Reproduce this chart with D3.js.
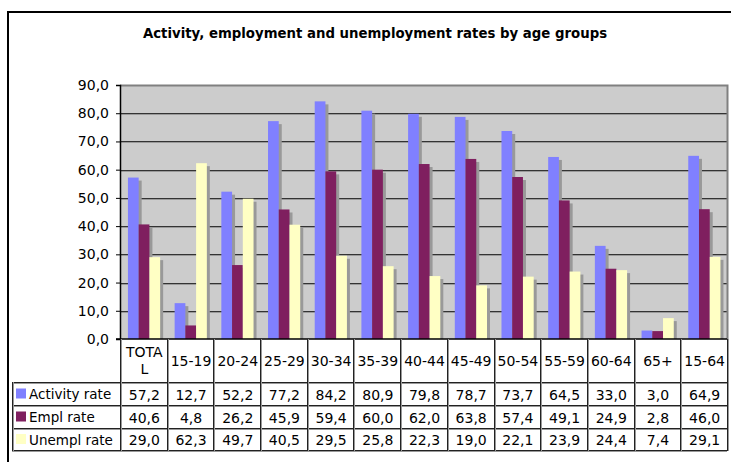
<!DOCTYPE html>
<html>
<head>
<meta charset="utf-8">
<script src="https://cdn.jsdelivr.net/npm/d3@7/dist/d3.min.js"></script>
<style>
  html, body { margin: 0; padding: 0; background: #fff; }
  svg { display: block; }
  text { font-family: "DejaVu Sans", Verdana, sans-serif; fill: #000; }
</style>
</head>
<body>
<svg id="chart" width="731" height="462"></svg>
<script>
// Age groups (column headers of the data table)
const categories = ["TOTAL", "15-19", "20-24", "25-29", "30-34", "35-39", "40-44",
                    "45-49", "50-54", "55-59", "60-64", "65+", "15-64"];
const headerLines = [["TOTA", "L"], ["15-19"], ["20-24"], ["25-29"], ["30-34"], ["35-39"],
                     ["40-44"], ["45-49"], ["50-54"], ["55-59"], ["60-64"], ["65+"], ["15-64"]];

// Rates in percent
const activityRate = [57.2, 12.7, 52.2, 77.2, 84.2, 80.9, 79.8, 78.7, 73.7, 64.5, 33.0, 3.0, 64.9];
const emplRate     = [40.6, 4.8, 26.2, 45.9, 59.4, 60.0, 62.0, 63.8, 57.4, 49.1, 24.9, 2.8, 46.0];
const unemplRate   = [29.0, 62.3, 49.7, 40.5, 29.5, 25.8, 22.3, 19.0, 22.1, 23.9, 24.4, 7.4, 29.1];

const seriesNames  = ["Activity rate", "Empl rate", "Unempl rate"];
const seriesColors = ["#8080ff", "#7f1f5f", "#ffffc4"];
const yTicks = [0, 10, 20, 30, 40, 50, 60, 70, 80, 90];

const series = [activityRate, emplRate, unemplRate].map((vals, i) => ({
  name: seriesNames[i], color: seriesColors[i], values: vals
}));

const fmt = v => d3.format(".1f")(v).replace(".", ",");

const svg = d3.select("#chart");

// Outer chart frame (runs off the right and bottom edges)
svg.append("rect")
  .attr("x", 8).attr("y", 12).attr("width", 760).attr("height", 480)
  .attr("fill", "none").attr("stroke", "#000").attr("stroke-width", 2);

// Title
svg.append("text")
  .attr("x", 375).attr("y", 38)
  .attr("text-anchor", "middle")
  .attr("font-size", 13.3).attr("font-weight", "bold")
  .text("Activity, employment and unemployment rates by age groups");

// Plot geometry
const plotLeft = 120, plotRight = 727, plotTop = 85, plotBottom = 339;

const x = d3.scaleBand().domain(categories).range([plotLeft, plotRight]).padding(0);
const inner = d3.scaleBand().domain(seriesNames)
  .range([x.bandwidth() * 0.17, x.bandwidth() * 0.86]).padding(0);
const y = d3.scaleLinear().domain([0, 90]).range([plotBottom, plotTop]);

// Plot background
svg.append("rect")
  .attr("x", plotLeft).attr("y", plotTop)
  .attr("width", plotRight - plotLeft).attr("height", plotBottom - plotTop)
  .attr("fill", "#cccccc");

// Gridlines with a soft shadow beneath
const grid = svg.append("g");
yTicks.filter(t => t > 0 && t < 90).forEach(t => {
  grid.append("line")
    .attr("x1", plotLeft).attr("x2", plotRight)
    .attr("y1", Math.round(y(t)) + 1.5).attr("y2", Math.round(y(t)) + 1.5)
    .attr("stroke", "#9a9a9a").attr("stroke-width", 1);
  grid.append("line")
    .attr("x1", plotLeft).attr("x2", plotRight)
    .attr("y1", Math.round(y(t)) + 0.5).attr("y2", Math.round(y(t)) + 0.5)
    .attr("stroke", "#333").attr("stroke-width", 1);
});

// Plot top / right border
svg.append("path")
  .attr("d", `M${plotLeft},${plotTop + 0.5}H${plotRight + 0.5}V${plotBottom}`)
  .attr("fill", "none").attr("stroke", "#808080").attr("stroke-width", 2);

// Bars: shadows first, then the bars
const groups = svg.append("g").selectAll("g")
  .data(categories)
  .join("g")
  .attr("transform", d => `translate(${x(d)},0)`);

const barData = (c, ci) => series.map(s => ({ key: s.name, color: s.color, value: s.values[ci] }));

groups.selectAll("rect.shadow")
  .data((c, ci) => barData(c, ci))
  .join("rect")
  .attr("class", "shadow")
  .attr("x", d => inner(d.key) + 3)
  .attr("y", d => y(d.value) + 3)
  .attr("width", inner.bandwidth())
  .attr("height", d => Math.max(0, y(0) - y(d.value) - 3))
  .attr("fill", "#999");

groups.selectAll("rect.bar")
  .data((c, ci) => barData(c, ci))
  .join("rect")
  .attr("class", "bar")
  .attr("x", d => inner(d.key))
  .attr("y", d => y(d.value))
  .attr("width", inner.bandwidth())
  .attr("height", d => y(0) - y(d.value))
  .attr("fill", d => d.color);

// Y axis
const yAxis = svg.append("g")
  .attr("transform", `translate(${plotLeft},0)`)
  .call(d3.axisLeft(y).tickValues(yTicks).tickFormat(fmt).tickSize(4).tickPadding(7));
yAxis.select(".domain").attr("stroke", "#000").attr("stroke-width", 1.5);
yAxis.selectAll(".tick line").attr("stroke", "#000");
yAxis.selectAll(".tick text")
  .attr("font-size", 14)
  .attr("font-family", "DejaVu Sans, Verdana, sans-serif")
  .attr("fill", "#000");

// Zero line
svg.append("line")
  .attr("x1", plotLeft - 4).attr("x2", plotRight)
  .attr("y1", y(0)).attr("y2", y(0))
  .attr("stroke", "#000").attr("stroke-width", 1.5);

// Data table under the plot
const rowTops = [339, 382, 405, 428, 450];
const legendLeft = 12;
const table = svg.append("g");

const hLine = (x1, x2, yy) => {
  table.append("line").attr("x1", x1).attr("x2", x2).attr("y1", yy + 1.5).attr("y2", yy + 1.5)
    .attr("stroke", "#999").attr("stroke-width", 1);
  table.append("line").attr("x1", x1).attr("x2", x2).attr("y1", yy + 0.5).attr("y2", yy + 0.5)
    .attr("stroke", "#222").attr("stroke-width", 1);
};
const vLine = (xx, y1, y2) => {
  table.append("line").attr("x1", xx + 1.5).attr("x2", xx + 1.5).attr("y1", y1).attr("y2", y2)
    .attr("stroke", "#999").attr("stroke-width", 1);
  table.append("line").attr("x1", xx + 0.5).attr("x2", xx + 0.5).attr("y1", y1).attr("y2", y2)
    .attr("stroke", "#222").attr("stroke-width", 1);
};

// Horizontal rules
hLine(legendLeft, plotRight, rowTops[1]);
hLine(legendLeft, plotRight, rowTops[2]);
hLine(legendLeft, plotRight, rowTops[3]);
hLine(legendLeft, plotRight, rowTops[4]);

// Vertical rules
vLine(legendLeft, rowTops[1], rowTops[4] + 1);
vLine(plotLeft, rowTops[0], rowTops[4] + 1);
categories.forEach(c => vLine(Math.round(x(c) + x.bandwidth()), rowTops[0], rowTops[4] + 1));

// Column headers
categories.forEach((c, ci) => {
  const lines = headerLines[ci];
  const cx = x(c) + x.bandwidth() / 2 + 1;
  const cy = (rowTops[0] + rowTops[1]) / 2;
  const lh = 17;
  lines.forEach((ln, li) => {
    table.append("text")
      .attr("x", cx)
      .attr("y", cy + (li - (lines.length - 1) / 2) * lh)
      .attr("dy", "0.36em")
      .attr("text-anchor", "middle")
      .attr("font-size", 14)
      .text(ln);
  });
});

// Series rows: legend key, name and values
series.forEach((s, si) => {
  const cy = (rowTops[si + 1] + rowTops[si + 2]) / 2 + 1;
  table.append("rect")
    .attr("x", legendLeft + 4).attr("y", cy - 6)
    .attr("width", 10).attr("height", 10)
    .attr("fill", s.color);
  table.append("text")
    .attr("x", legendLeft + 17).attr("y", cy)
    .attr("dy", "0.36em")
    .attr("font-size", 13.5)
    .text(s.name);
  s.values.forEach((v, ci) => {
    table.append("text")
      .attr("x", x(categories[ci]) + x.bandwidth() / 2 + 1)
      .attr("y", cy)
      .attr("dy", "0.36em")
      .attr("text-anchor", "middle")
      .attr("font-size", 14)
      .text(fmt(v));
  });
});
</script>
</body>
</html>
